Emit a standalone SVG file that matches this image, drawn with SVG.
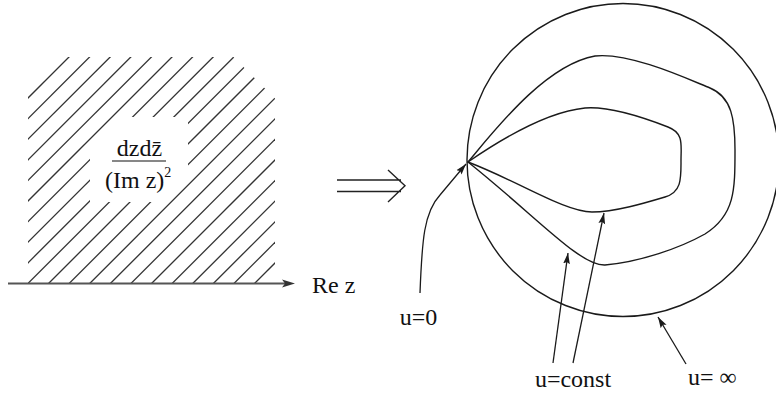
<svg xmlns="http://www.w3.org/2000/svg" width="776" height="394" viewBox="0 0 776 394">
<style>
.t{font-family:"Liberation Serif","Times New Roman",serif;font-size:24px;fill:#111}
.h{stroke:#333;stroke-width:1.3;fill:none}
.c{stroke:#1a1a1a;stroke-width:1.4;fill:none}
.a{stroke:#1a1a1a;stroke-width:1.3;fill:none;marker-end:url(#ah)}
</style>
<defs>
<marker id="ah" markerUnits="userSpaceOnUse" markerWidth="14" markerHeight="10" refX="11" refY="4" orient="auto">
<path d="M0,0.6 L11,4 L0,7.4 L2,4 Z" fill="#1a1a1a"/>
</marker>
<clipPath id="hatchClip">
<path clip-rule="evenodd" d="M28,57 H233.5 L275,98.5 V283 H28 Z M90,150 L123,117 H188 V175 L161,202 H90 Z"/>
</clipPath>
</defs>

<g id="halfplane">
<g class="h" clip-path="url(#hatchClip)">
<line x1="-164" y1="290" x2="76" y2="50"/>
<line x1="-143.4" y1="290" x2="96.6" y2="50"/>
<line x1="-122.8" y1="290" x2="117.2" y2="50"/>
<line x1="-102.2" y1="290" x2="137.8" y2="50"/>
<line x1="-81.6" y1="290" x2="158.4" y2="50"/>
<line x1="-61" y1="290" x2="179" y2="50"/>
<line x1="-40.4" y1="290" x2="199.6" y2="50"/>
<line x1="-19.8" y1="290" x2="220.2" y2="50"/>
<line x1="0.8" y1="290" x2="240.8" y2="50"/>
<line x1="21.4" y1="290" x2="261.4" y2="50"/>
<line x1="42" y1="290" x2="282" y2="50"/>
<line x1="62.6" y1="290" x2="302.6" y2="50"/>
<line x1="83.2" y1="290" x2="323.2" y2="50"/>
<line x1="103.8" y1="290" x2="343.8" y2="50"/>
<line x1="124.4" y1="290" x2="364.4" y2="50"/>
<line x1="145" y1="290" x2="385" y2="50"/>
<line x1="165.6" y1="290" x2="405.6" y2="50"/>
<line x1="186.2" y1="290" x2="426.2" y2="50"/>
<line x1="206.8" y1="290" x2="446.8" y2="50"/>
<line x1="227.4" y1="290" x2="467.4" y2="50"/>
<line x1="248" y1="290" x2="488" y2="50"/>
</g>
</g>

<g id="measure">
<text class="t" x="139.5" y="156" text-anchor="middle">dzdz̄</text>
<line x1="112" y1="161" x2="166" y2="161" stroke="#111" stroke-width="1.2"/>
<text class="t" x="105" y="188">(Im z)<tspan font-size="14" dy="-11">2</tspan></text>
</g>

<g id="axis">
<line x1="8" y1="283.5" x2="286" y2="283.5" stroke="#555" stroke-width="2"/>
<path d="M282,279.5 L295,283.5 L282,287.5 L285,283.5 Z" fill="#333"/>
<text class="t" x="312" y="293">Re z</text>
</g>

<g id="implies">
<path d="M337,180 H401 M337,191.5 H401 M388,170 L405,185.8 L388,202" stroke="#222" stroke-width="1.4" fill="none"/>
</g>

<g id="disk">
<ellipse class="c" cx="623" cy="160" rx="156" ry="156.5"/>
</g>

<g id="outer-curve">
<path class="c" d="M468,162 C495,130 545,65 595,56 C630,52 690,80 710,88 C732,97 735,120 735,150 C735,190 735,215 705,234 C680,248 640,262 605,265 C580,266 538,218 468,162 Z"/>
</g>

<g id="inner-curve">
<path class="c" d="M468,162 C500,140 545,112 585,108 C610,106 650,120 668,127 C684,133 681,145 681,160 C681,178 682,192 665,197 C645,203 615,212 592,212 C565,212 520,182 468,162 Z"/>
</g>

<g id="connectors">
<path class="a" d="M420,293 C422,240 424,212 440,195 L466,164"/>
<path class="a" d="M553,363 L568,253"/>
<path class="a" d="M573,363 L604,213"/>
<path class="a" d="M686,364 L658,317"/>
</g>

<g id="labels">
<text class="t" x="418.5" y="325" text-anchor="middle">u=0</text>
<text class="t" x="573" y="387" text-anchor="middle">u=const</text>
<text class="t" x="688" y="385">u= ∞</text>
</g>
</svg>
